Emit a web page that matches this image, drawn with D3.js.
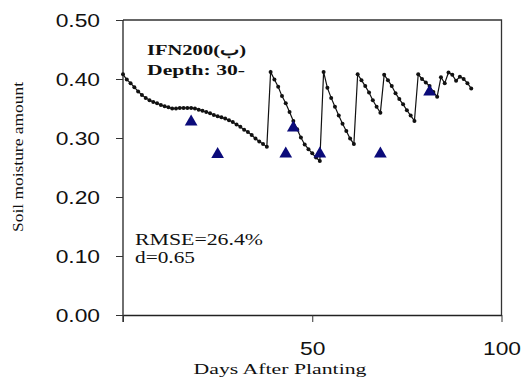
<!DOCTYPE html>
<html lang="en">
  <head>
    <meta charset="utf-8">
    <title>Soil moisture IFN200</title>
    <script src="https://d3js.org/d3.v7.js"></script>
    <style>
    body {margin: 0; background: white;}
    .tick-label {font-family: "Liberation Sans", Arial, sans-serif; font-size: 19px; fill: #111;}
    .serif {font-family: "Liberation Serif", "Times New Roman", serif; fill: #111;}
    </style>
  </head>
  <body>
  <script>

  var w = 526;
  var h = 378;

  // simulated soil moisture, one value per day from day 0
  var simValues = [
    0.408, 0.399, 0.393, 0.386, 0.379, 0.373, 0.368, 0.364, 0.361, 0.359,
    0.356, 0.354, 0.352, 0.350, 0.350, 0.351, 0.351, 0.351, 0.351, 0.350,
    0.348, 0.346, 0.344, 0.342, 0.339, 0.337, 0.335, 0.333, 0.330, 0.327,
    0.323, 0.319, 0.314, 0.310, 0.305, 0.299, 0.294, 0.290, 0.285,
    0.412, 0.399, 0.387, 0.371, 0.359, 0.344, 0.329, 0.315, 0.301, 0.289,
    0.281, 0.274, 0.267, 0.261,
    0.412, 0.385, 0.368, 0.353, 0.338, 0.324, 0.312, 0.299, 0.290,
    0.408, 0.398, 0.388, 0.377, 0.364, 0.353, 0.343,
    0.407, 0.398, 0.388, 0.376, 0.366, 0.357, 0.347, 0.338, 0.329,
    0.408, 0.400, 0.394, 0.388, 0.378, 0.370,
    0.403, 0.393, 0.411, 0.407, 0.397, 0.404, 0.400, 0.393, 0.384
  ];

  // measured values
  var obsDays = [18, 25, 43, 45, 52, 68, 81];
  var obsValues = [0.329, 0.274, 0.275, 0.319, 0.275, 0.275, 0.380];

  var yTicks = [0, 0.1, 0.2, 0.3, 0.4, 0.5];
  var xTicks = [0, 50, 100];
  var xTickLabels = ["", "50", "100"];

  var svg = d3.select("body")
      .append("svg")
      .attr("width", w)
      .attr("height", h);

  var xScale = d3.scaleLinear()
      .domain([0, 100])
      .range([123, 501.5]);

  var yScale = d3.scaleLinear()
      .domain([0, 0.5])
      .range([315, 20]);

  // frame (top and right)
  svg.append("path")
     .attr("d", `M${xScale(0)},${yScale(0.5)}H${xScale(100)}V${yScale(0)}`)
     .attr("fill", "none")
     .attr("stroke", "#333")
     .attr("stroke-width", 1.3);

  // y axis
  var yAxis = d3.axisLeft(yScale)
      .tickValues(yTicks)
      .tickSize(7)
      .tickSizeOuter(0)
      .tickPadding(16)
      .tickFormat(d3.format(".2f"));
  var gy = svg.append("g")
      .attr("transform", `translate(${xScale(0)},0)`)
      .call(yAxis);

  // x axis
  var xAxis = d3.axisBottom(xScale)
      .tickValues(xTicks)
      .tickSize(7)
      .tickSizeOuter(0)
      .tickPadding(20)
      .tickFormat((d, i) => xTickLabels[i]);
  var gx = svg.append("g")
      .attr("transform", `translate(0,${yScale(0)})`)
      .call(xAxis);

  [gx, gy].forEach(function(g) {
    g.select(".domain").attr("stroke", "#222").attr("stroke-width", 1.3);
    g.selectAll(".tick line").attr("stroke", "#333").attr("stroke-width", 1);
    g.selectAll(".tick text")
     .attr("class", "tick-label")
     .attr("font-family", null)
     .attr("font-size", null);
  });
  gy.select(".domain").attr("d", `M0,${yScale(0.5)}V${yScale(0) + 7}`);

  // image is stretched horizontally, widen the labels
  svg.selectAll(".tick-label").each(function() {
    var len = this.getComputedTextLength();
    if (len > 0) {
      d3.select(this)
        .attr("textLength", len * 1.2)
        .attr("lengthAdjust", "spacingAndGlyphs");
    }
  });

  // simulated line
  var line = d3.line()
      .x((d, i) => xScale(i))
      .y(d => yScale(d));

  svg.append("path")
     .datum(simValues)
     .attr("d", line)
     .attr("fill", "none")
     .attr("stroke", "#111")
     .attr("stroke-width", 1.2);

  svg.selectAll(".sim-dot")
     .data(simValues)
     .join("circle")
     .attr("class", "sim-dot")
     .attr("cx", (d, i) => xScale(i))
     .attr("cy", d => yScale(d))
     .attr("r", 2)
     .attr("fill", "#111");

  // observed triangles
  svg.selectAll(".obs")
     .data(obsDays)
     .join("path")
     .attr("class", "obs")
     .attr("d", d3.symbol(d3.symbolTriangle, 70))
     .attr("transform", (d, i) => `translate(${xScale(d)},${yScale(obsValues[i]) + 1})`)
     .attr("fill", "#0b0b7a");

  // annotations
  svg.append("text")
     .attr("class", "serif")
     .attr("x", 147).attr("y", 55)
     .attr("font-size", 15).attr("font-weight", "bold")
     .attr("textLength", 99).attr("lengthAdjust", "spacingAndGlyphs")
     .text("IFN200(ب)");

  svg.append("text")
     .attr("class", "serif")
     .attr("x", 147).attr("y", 75)
     .attr("font-size", 15).attr("font-weight", "bold")
     .attr("textLength", 98).attr("lengthAdjust", "spacingAndGlyphs")
     .text("Depth: 30-");

  svg.append("text")
     .attr("class", "serif")
     .attr("x", 135).attr("y", 245)
     .attr("font-size", 16)
     .attr("fill", "#222")
     .attr("textLength", 128).attr("lengthAdjust", "spacingAndGlyphs")
     .text("RMSE=26.4%");

  svg.append("text")
     .attr("class", "serif")
     .attr("x", 135).attr("y", 263)
     .attr("font-size", 16)
     .attr("fill", "#222")
     .attr("textLength", 60).attr("lengthAdjust", "spacingAndGlyphs")
     .text("d=0.65");

  // axis titles
  svg.append("text")
     .attr("class", "serif")
     .attr("x", 280).attr("y", 374)
     .attr("text-anchor", "middle")
     .attr("font-size", 14)
     .attr("textLength", 173).attr("lengthAdjust", "spacingAndGlyphs")
     .text("Days After Planting");

  svg.append("text")
     .attr("class", "serif")
     .attr("transform", "translate(23,157) rotate(-90)")
     .attr("text-anchor", "middle")
     .attr("font-size", 15)
     .attr("textLength", 150).attr("lengthAdjust", "spacingAndGlyphs")
     .text("Soil moisture amount");

  </script>
  </body>
</html>
